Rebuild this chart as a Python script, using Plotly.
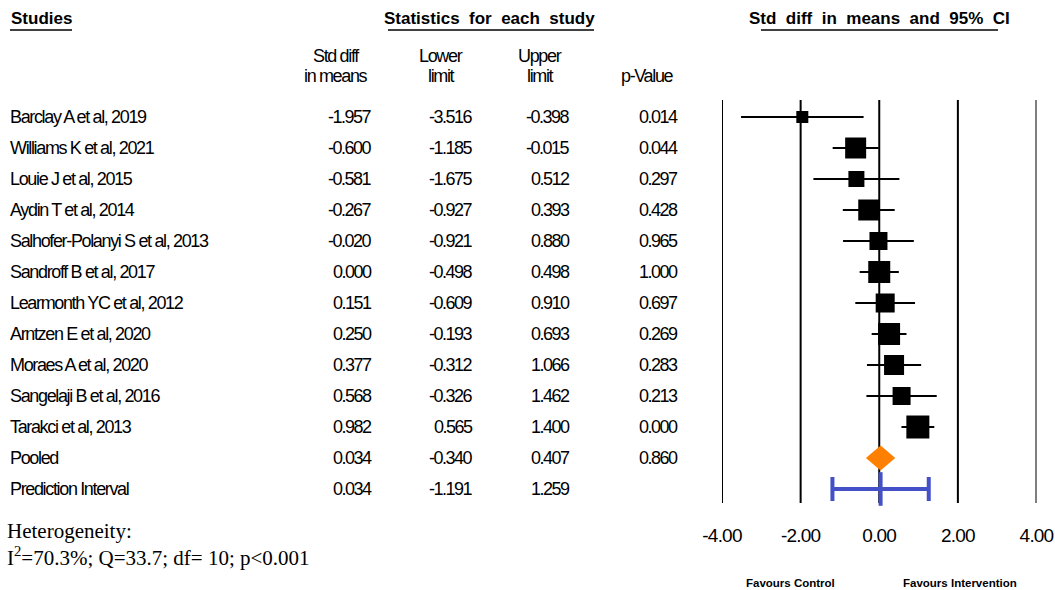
import plotly.graph_objects as go

# ---------------- data ----------------
studies = [
    "Barclay A et al, 2019", "Williams K et al, 2021", "Louie J et al, 2015",
    "Aydin T et al, 2014", "Salhofer-Polanyi S et al, 2013", "Sandroff B et al, 2017",
    "Learmonth YC et al, 2012", "Arntzen E et al, 2020", "Moraes A et al, 2020",
    "Sangelaji B et al, 2016", "Tarakci et al, 2013",
]
smd = [-1.957, -0.600, -0.581, -0.267, -0.020, 0.000, 0.151, 0.250, 0.377, 0.568, 0.982]
lower = [-3.516, -1.185, -1.675, -0.927, -0.921, -0.498, -0.609, -0.193, -0.312, -0.326, 0.565]
upper = [-0.398, -0.015, 0.512, 0.393, 0.880, 0.498, 0.910, 0.693, 1.066, 1.462, 1.400]
pvals = [0.014, 0.044, 0.297, 0.428, 0.965, 1.000, 0.697, 0.269, 0.283, 0.213, 0.000]

pooled_smd, pooled_lower, pooled_upper, pooled_p = 0.034, -0.340, 0.407, 0.860
pi_smd, pi_lower, pi_upper = 0.034, -1.191, 1.259

tick_vals = [-4, -2, 0, 2, 4]
tick_text = ["-4.00", "-2.00", "0.00", "2.00", "4.00"]

# ---------------- styles ----------------
W, H = 1055, 590
ROW0, PITCH = 117.0, 31.0
marker_px = [12, 21, 16, 21, 18, 22, 19, 22, 20, 18, 23]
SANS = "Liberation Sans, Arial, sans-serif"
SERIF = "Liberation Serif, Times New Roman, serif"
BLUE = "#4450C8"
ORANGE = "#FF8000"


def tight(s, ls=-1.35):
    return f'<span style="letter-spacing:{ls}px">{s}</span>'


def py(pixel):
    """pixel row -> y data value"""
    return (pixel - ROW0) / PITCH


def px(pixel):
    return pixel / W


n = len(studies)
rows = list(range(n))
pooled_row = n
pi_row = n + 1

fig = go.Figure()

# study estimates with CIs
fig.add_trace(go.Scatter(
    x=smd, y=rows, mode="markers",
    marker=dict(symbol="square", size=marker_px, color="black", opacity=1,
                line=dict(width=0)),
    error_x=dict(type="data", symmetric=False,
                 array=[u - e for u, e in zip(upper, smd)],
                 arrayminus=[e - l for e, l in zip(smd, lower)],
                 width=0, thickness=1.8, color="black"),
    hoverinfo="skip", showlegend=False,
))

# pooled diamond
dh = 0.40
fig.add_trace(go.Scatter(
    x=[pooled_lower, pooled_smd, pooled_upper, pooled_smd, pooled_lower],
    y=[pooled_row, pooled_row - dh, pooled_row, pooled_row + dh, pooled_row],
    mode="lines", fill="toself", fillcolor=ORANGE, line=dict(width=0, color=ORANGE),
    hoverinfo="skip", showlegend=False,
))

# prediction interval
fig.add_trace(go.Scatter(
    x=[pi_smd], y=[pi_row], mode="markers",
    marker=dict(symbol="line-ns", size=24, line=dict(width=4, color=BLUE), color=BLUE,
                opacity=1),
    error_x=dict(type="data", symmetric=False,
                 array=[pi_upper - pi_smd], arrayminus=[pi_smd - pi_lower],
                 width=12, thickness=4, color=BLUE),
    hoverinfo="skip", showlegend=False,
))

# vertical reference lines
for v in tick_vals:
    fig.add_shape(type="line", xref="x", yref="y", x0=v, x1=v,
                  y0=py(100), y1=py(503), line=dict(color="black", width=2), layer="below")

anns = []
tfont = dict(family=SANS, size=18, color="black")

# table rows
labels = studies + ["Pooled", "Prediction Interval"]
col_est = smd + [pooled_smd, pi_smd]
col_lo = lower + [pooled_lower, pi_lower]
col_hi = upper + [pooled_upper, pi_upper]
col_p = pvals + [pooled_p, None]
for i, lab in enumerate(labels):
    anns.append(dict(x=px(8), y=i, xref="paper", yref="y", text=tight(lab),
                     xanchor="left", yanchor="middle", showarrow=False, font=tfont))
    for xr, val in zip([374, 475, 572, 680], [col_est[i], col_lo[i], col_hi[i], col_p[i]]):
        if val is None:
            continue
        anns.append(dict(x=px(xr), y=i, xref="paper", yref="y", text=tight(f"{val:.3f}", -1.5),
                         xanchor="right", yanchor="middle", showarrow=False, font=tfont))

# column headers
for cx, l1, l2 in [(336, "Std diff", "in means"), (441, "Lower", "limit"),
                   (540, "Upper", "limit")]:
    anns.append(dict(x=px(cx), y=py(56), xref="paper", yref="y", text=tight(l1),
                     xanchor="center", yanchor="middle", showarrow=False, font=tfont))
    anns.append(dict(x=px(cx), y=py(76), xref="paper", yref="y", text=tight(l2),
                     xanchor="center", yanchor="middle", showarrow=False, font=tfont))
anns.append(dict(x=px(647), y=py(76), xref="paper", yref="y", text=tight("p-Value"),
                 xanchor="center", yanchor="middle", showarrow=False, font=tfont))

# bold section headers
hfont = dict(family=SANS, size=17, color="black")
anns.append(dict(x=px(9), y=py(18), xref="paper", yref="y", text="<b>Studies</b>",
                 xanchor="left", yanchor="middle", showarrow=False, font=hfont))
anns.append(dict(x=px(489), y=py(18), xref="paper", yref="y",
                 text="<b>Statistics  for  each  study</b>",
                 xanchor="center", yanchor="middle", showarrow=False, font=hfont))
anns.append(dict(x=px(879), y=py(18), xref="paper", yref="y",
                 text="<b>Std  diff  in  means  and  95%  CI</b>",
                 xanchor="center", yanchor="middle", showarrow=False, font=hfont))
for x0, x1 in [(10, 72), (388, 594), (761, 998)]:
    fig.add_shape(type="line", xref="paper", yref="y", x0=px(x0), x1=px(x1),
                  y0=py(30), y1=py(30), line=dict(color="black", width=1.5))

# heterogeneity
sfont = dict(family=SERIF, size=21, color="black")
anns.append(dict(x=px(5), y=py(531), xref="paper", yref="y", text="Heterogeneity:",
                 xanchor="left", yanchor="middle", showarrow=False, font=sfont))
anns.append(dict(x=px(5), y=py(556), xref="paper", yref="y",
                 text="I<sup>2</sup>=70.3%; Q=33.7; df= 10; p&lt;0.001",
                 xanchor="left", yanchor="middle", showarrow=False, font=sfont))

# favours labels
ffont = dict(family=SANS, size=11.5, color="black")
anns.append(dict(x=px(790), y=py(583), xref="paper", yref="y", text="<b>Favours Control</b>",
                 xanchor="center", yanchor="middle", showarrow=False, font=ffont))
anns.append(dict(x=px(960), y=py(583), xref="paper", yref="y", text="<b>Favours Intervention</b>",
                 xanchor="center", yanchor="middle", showarrow=False, font=ffont))

fig.update_layout(
    width=W, height=H, margin=dict(l=0, r=0, t=0, b=0, autoexpand=False),
    paper_bgcolor="white", plot_bgcolor="white",
    annotations=anns,
    xaxis=dict(domain=[px(722), px(1036.5)], range=[-4, 4], tickvals=tick_vals,
               ticktext=[tight(t, -0.8) for t in tick_text],
               showgrid=False, zeroline=False, showline=False,
               ticks="", anchor="free", position=(H - 522) / H, automargin=False,
               tickfont=dict(family=SANS, size=19, color="black")),
    yaxis=dict(domain=[0, 1], range=[py(590), py(0)], visible=False,
               showgrid=False, zeroline=False),
)

fig.write_html("out.html")
